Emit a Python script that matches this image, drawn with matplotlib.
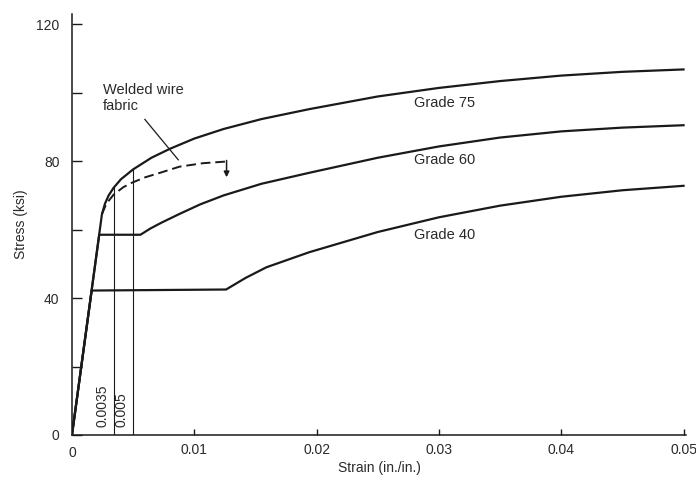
import numpy as np
import matplotlib
matplotlib.use('Agg')
import matplotlib.pyplot as plt

plt.rcParams['font.family'] = ['Liberation Sans', 'DejaVu Sans']

# ---- data (strain in./in., stress ksi) ----
g40_strain = [0, 0.00161, 0.0126, 0.0142, 0.0159, 0.0194, 0.025, 0.030, 0.035, 0.040, 0.045, 0.050]
g40_stress = [0, 42.2, 42.5, 45.9, 49.0, 53.4, 59.3, 63.6, 67.0, 69.6, 71.5, 72.8]

g60_strain = [0, 0.00223, 0.0056, 0.0064, 0.0073, 0.0088, 0.0105, 0.0124, 0.0155, 0.0194, 0.025, 0.030,
              0.035, 0.040, 0.045, 0.050]
g60_stress = [0, 58.5, 58.5, 60.3, 62.0, 64.6, 67.4, 70.0, 73.4, 76.6, 81.0, 84.3,
              86.9, 88.7, 89.8, 90.5]

g75_strain = [0, 0.00245, 0.0027, 0.0030, 0.0034, 0.0040, 0.0050, 0.0065, 0.0080, 0.0100, 0.0124, 0.0155,
              0.0194, 0.025, 0.030, 0.035, 0.040, 0.045, 0.050]
g75_stress = [0, 64.5, 67.6, 70.0, 72.2, 74.7, 77.6, 81.0, 83.6, 86.6, 89.4, 92.3,
              95.2, 98.9, 101.4, 103.4, 105.0, 106.1, 106.8]

wwf_strain = [0.00245, 0.0028, 0.0034, 0.0042, 0.0049, 0.0060, 0.0072, 0.0088, 0.0107, 0.01264]
wwf_stress = [64.5, 67.5, 70.2, 72.4, 73.7, 75.3, 76.6, 78.4, 79.4, 79.9]

mark_strain = [0.0034, 0.0050]
mark_top = [72.2, 77.6]
mark_labels = ['0.0035', '0.005']

grade_names = ['Grade 75', 'Grade 60', 'Grade 40']
grade_label_y = [97.1, 80.4, 58.5]

x_ticks = [0, 0.01, 0.02, 0.03, 0.04, 0.05]
x_ticklabels = ['0', '0.01', '0.02', '0.03', '0.04', '0.05']
y_major = [0, 40, 80, 120]
y_minor = [20, 60, 100]

ink = '#1a1a1a'
txt = '#2a2a2a'

fig = plt.figure(figsize=(6.96, 4.79), dpi=100)
ax = fig.add_axes([0.1034, 0.0919, 0.8822, 0.8789])

ax.plot(g40_strain, g40_stress, color=ink, lw=1.6, solid_joinstyle='round')
ax.plot(g60_strain, g60_stress, color=ink, lw=1.6, solid_joinstyle='round')
ax.plot(g75_strain, g75_stress, color=ink, lw=1.6, solid_joinstyle='round')
ax.plot(wwf_strain, wwf_stress, color=ink, lw=1.4, dashes=(5, 2.5))

# hook + arrow at end of welded wire curve
ax.annotate('', xy=(wwf_strain[-1], 75.3), xytext=(wwf_strain[-1], wwf_stress[-1] + 0.3),
            arrowprops=dict(arrowstyle='-|>', lw=1.1, color=ink, mutation_scale=8,
                            shrinkA=0, shrinkB=0))

# strain markers
for xs, top, lab in zip(mark_strain, mark_top, mark_labels):
    ax.plot([xs, xs], [0, top], color=ink, lw=0.8)
    ax.text(xs - 0.00092, 2.3, lab, rotation=90, ha='center', va='bottom',
            fontsize=10, color=txt)

for name, yl in zip(grade_names, grade_label_y):
    ax.text(0.0280, yl, name, ha='left', va='center', fontsize=10.5, color=txt)

ax.text(0.00253, 102.8, 'Welded wire\nfabric', ha='left', va='top', fontsize=10.5,
        color=txt, linespacing=1.2)
ax.plot([0.00596, 0.00869], [92.2, 80.4], color=ink, lw=0.9)

ax.set_xlim(0, 0.0502)
ax.set_ylim(0, 123)
ax.spines['top'].set_visible(False)
ax.spines['right'].set_visible(False)
for s in ['left', 'bottom']:
    ax.spines[s].set_linewidth(1.1)
    ax.spines[s].set_color(ink)

ax.set_xticks(x_ticks[1:])
ax.set_xticklabels(x_ticklabels[1:])
ax.set_yticks(y_major)
ax.set_yticks(y_minor, minor=True)
ax.tick_params(axis='x', direction='in', length=4.5, width=1.0, pad=6, labelsize=10, colors=ink, labelcolor=txt)
ax.tick_params(axis='y', which='both', direction='in', length=7, width=1.0, pad=9, labelsize=10, colors=ink, labelcolor=txt)
ax.text(0, -3.3, x_ticklabels[0], ha='center', va='top', fontsize=10, color=txt)

ax.set_xlabel('Strain (in./in.)', fontsize=10, color=txt, labelpad=3)
ax.set_ylabel('Stress (ksi)', fontsize=10, color=txt, labelpad=6)

fig.savefig('out.png', dpi=100)
